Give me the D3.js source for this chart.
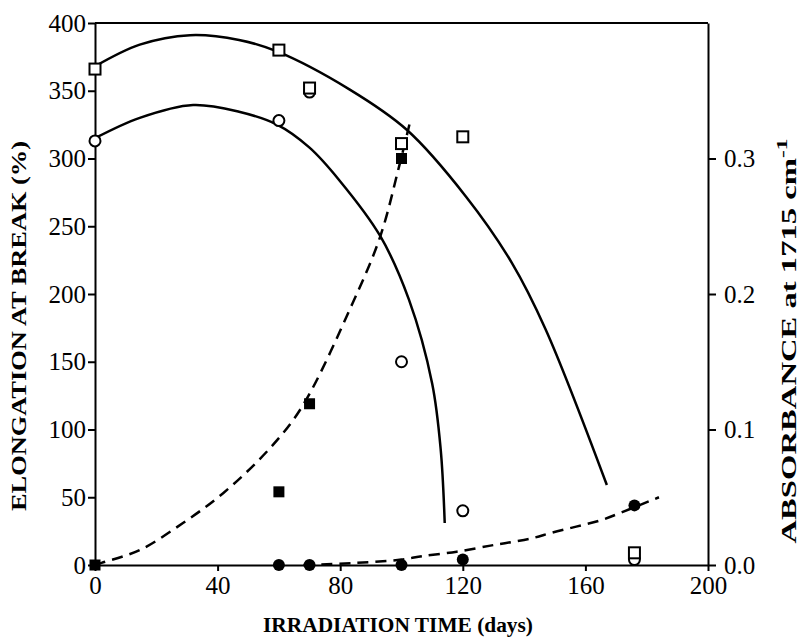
<!DOCTYPE html>
<html lang="en">
<head>
    <meta charset="UTF-8">
    <script src="https://d3js.org/d3.v7.min.js" charset="utf-8"></script>
    <title>Elongation and absorbance</title>
    <style>
        body { margin: 0; background: white; }
        svg text { font-family: "Liberation Serif", "Times New Roman", serif; fill: black; }
        .tick text { font-size: 25px; }
        .title { font-size: 21px; font-weight: bold; }
    </style>
</head>
<body>
<div id="chart"></div>

<script>
    // measured points (days, elongation %)
    const openSquares = [[0, 366], [60, 380], [70, 352], [100, 311], [120, 316], [176, 9]];
    const openCircles = [[0, 313], [60, 328], [70, 349], [100, 150], [120, 40], [176, 4]];
    // measured points (days, absorbance at 1715 cm-1)
    const filledSquares = [[0, 0], [60, 0.054], [70, 0.119], [100, 0.300]];
    const filledCircles = [[60, 0], [70, 0], [100, 0], [120, 0.004], [176, 0.044]];

    // fitted trend lines
    const fitSquares = [[0, 368], [14.6, 384], [31, 391], [47, 387.5], [59.4, 379], [83, 351],
        [101.8, 321], [121, 272], [136, 223], [147, 174], [167, 59]];
    const fitCircles = [[0, 315], [14.6, 330], [32, 339.5], [47, 334.5], [59.4, 325], [70, 308],
        [79.7, 284], [93, 243], [102.4, 196], [110, 134], [112.8, 85], [114.1, 31]];
    const fitFilledSquares = [[0, 0], [2.7, 0.002], [14.6, 0.011], [28.7, 0.031], [41.8, 0.053],
        [57, 0.086], [67.6, 0.117], [84, 0.193], [93, 0.242], [99.2, 0.294], [103, 0.329]];
    const fitFilledCircles = [[68, 0], [85, 0.0015], [100, 0.004], [107, 0.0066], [118, 0.0098],
        [129, 0.0143], [136, 0.017], [143, 0.020], [149, 0.0238], [157, 0.0283], [165, 0.033],
        [172, 0.039], [184, 0.050]];

    const xTicks = [0, 40, 80, 120, 160, 200];
    const yLeftTicks = [0, 50, 100, 150, 200, 250, 300, 350, 400];
    const yRightTicks = [0, 0.1, 0.2, 0.3];

    const W = 801, H = 639;
    const margin = {top: 23, right: 93, bottom: 74, left: 95};
    const w = W - margin.left - margin.right;
    const h = H - margin.top - margin.bottom;

    const svg = d3.select("#chart").append("svg")
        .attr("width", W)
        .attr("height", H);
    const g = svg.append("g").attr("transform", `translate(${margin.left},${margin.top})`);

    const x = d3.scaleLinear().domain([0, 200]).range([0, w]);
    const yL = d3.scaleLinear().domain([0, 400]).range([h, 0]);
    const yR = d3.scaleLinear().domain([0, 0.4]).range([h, 0]);

    // frame top line
    g.append("line")
        .attr("x1", 0).attr("x2", w).attr("y1", 0).attr("y2", 0)
        .attr("stroke", "black").attr("stroke-width", 2);

    const styleAxis = sel => {
        sel.select(".domain").attr("stroke-width", 2);
        sel.selectAll(".tick line").attr("stroke-width", 2);
        sel.attr("font-family", null).attr("font-size", null);
    };

    g.append("g")
        .attr("transform", `translate(0,${h})`)
        .call(d3.axisBottom(x).tickValues(xTicks).tickSize(6).tickSizeOuter(0).tickPadding(5))
        .call(styleAxis);

    g.append("g")
        .call(d3.axisLeft(yL).tickValues(yLeftTicks).tickSize(7).tickSizeOuter(0).tickPadding(2))
        .call(styleAxis);

    g.append("g")
        .attr("transform", `translate(${w},0)`)
        .call(d3.axisRight(yR).tickValues(yRightTicks).tickFormat(d3.format(".1f"))
            .tickSize(8).tickSizeOuter(0).tickPadding(8))
        .call(styleAxis);

    // axis titles
    svg.append("text")
        .attr("class", "title")
        .attr("text-anchor", "middle")
        .attr("x", 398)
        .attr("y", 632)
        .attr("textLength", 270)
        .attr("lengthAdjust", "spacingAndGlyphs")
        .text("IRRADIATION TIME (days)");

    svg.append("text")
        .attr("class", "title")
        .attr("text-anchor", "middle")
        .attr("transform", "translate(26,326) rotate(-90)")
        .attr("textLength", 370)
        .attr("lengthAdjust", "spacingAndGlyphs")
        .text("ELONGATION AT BREAK (%)");

    const rt = svg.append("text")
        .attr("class", "title")
        .attr("text-anchor", "middle")
        .attr("transform", "translate(796,341) rotate(-90)")
        .attr("textLength", 405)
        .attr("lengthAdjust", "spacingAndGlyphs");
    rt.append("tspan").text("ABSORBANCE at 1715 cm");
    rt.append("tspan").attr("dy", -9).attr("font-size", 15).text("-1");

    // trend lines
    const lineL = d3.line().x(d => x(d[0])).y(d => yL(d[1])).curve(d3.curveCatmullRom);
    const lineR = d3.line().x(d => x(d[0])).y(d => yR(d[1])).curve(d3.curveCatmullRom);

    g.append("path").datum(fitSquares).attr("d", lineL)
        .attr("fill", "none").attr("stroke", "black").attr("stroke-width", 2.5);
    g.append("path").datum(fitCircles).attr("d", lineL)
        .attr("fill", "none").attr("stroke", "black").attr("stroke-width", 2.5);
    g.append("path").datum(fitFilledSquares).attr("d", lineR)
        .attr("fill", "none").attr("stroke", "black").attr("stroke-width", 2.5)
        .attr("stroke-dasharray", "11,7");
    g.append("path").datum(fitFilledCircles).attr("d", lineR)
        .attr("fill", "none").attr("stroke", "black").attr("stroke-width", 2.5)
        .attr("stroke-dasharray", "11,7");

    // markers
    const sq = 11, rad = 5.5;
    g.selectAll(".fsq").data(filledSquares).enter().append("rect")
        .attr("x", d => x(d[0]) - sq / 2).attr("y", d => yR(d[1]) - sq / 2)
        .attr("width", sq).attr("height", sq).attr("fill", "black");
    g.selectAll(".fci").data(filledCircles).enter().append("circle")
        .attr("cx", d => x(d[0])).attr("cy", d => yR(d[1])).attr("r", rad + 0.5)
        .attr("fill", "black");
    g.selectAll(".oci").data(openCircles).enter().append("circle")
        .attr("cx", d => x(d[0])).attr("cy", d => yL(d[1])).attr("r", rad)
        .attr("fill", "white").attr("stroke", "black").attr("stroke-width", 2);
    g.selectAll(".osq").data(openSquares).enter().append("rect")
        .attr("x", d => x(d[0]) - sq / 2).attr("y", d => yL(d[1]) - sq / 2)
        .attr("width", sq).attr("height", sq)
        .attr("fill", "white").attr("stroke", "black").attr("stroke-width", 2);
</script>
</body>
</html>
